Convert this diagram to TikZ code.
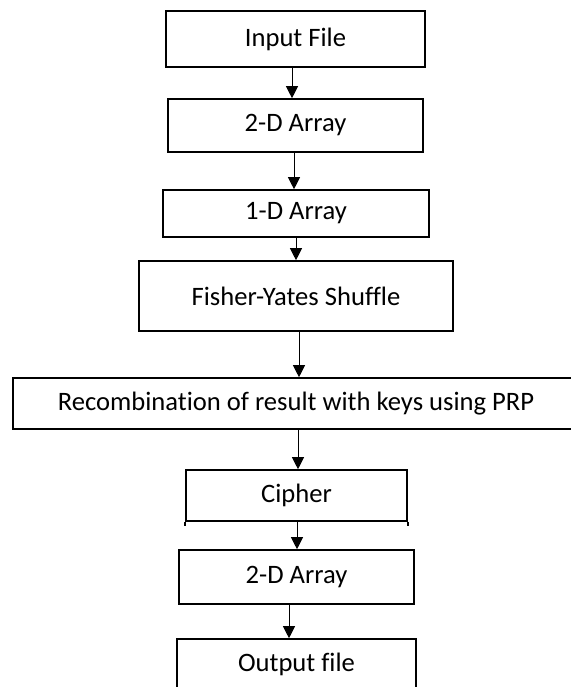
\documentclass[tikz,border=0pt]{standalone}
\usepackage{fontspec}
\setmainfont[Ligatures=NoCommon]{Carlito}
\usetikzlibrary{arrows.meta}
\begin{document}
\begin{tikzpicture}[x=1pt,y=1pt,
  box/.style={draw=black,line width=1.6pt,inner sep=0pt,anchor=center,
    font=\fontsize{26.6}{31}\selectfont},
  arr/.style={draw=black,line width=1pt,-{Triangle[length=12pt,width=12pt]}}]
\useasboundingbox (0,0) rectangle (570,-687);
\node[box,minimum width=259pt,minimum height=56pt] (n1) at (295.5,-39) {Input File};
\node[box,minimum width=255pt,minimum height=53pt] (n2) at (295.5,-125.5) {2-D Array};
\node[box,minimum width=266pt,minimum height=47pt] (n3) at (296,-213.5) {1-D Array};
\node[box,minimum width=314pt,minimum height=70pt] (n4) at (296,-296) {Fisher-Yates Shuffle};
\node[box,minimum width=566pt,minimum height=51pt] (n5) at (296,-403.5) {Recombination of result with keys using PRP};
\node[box,minimum width=221pt,minimum height=51pt] (n6) at (296.5,-495.5) {Cipher};
\node[box,minimum width=235pt,minimum height=54pt] (n7) at (296.5,-577) {2-D Array};
\node[box,minimum width=239pt,minimum height=50pt] (n8) at (296.5,-664) {Output file};
\draw[line width=1.6pt] (n6.south west) -- ++(0,-4);
\draw[line width=1.6pt] (n6.south east) -- ++(0,-4);
\draw[arr] ([xshift=-3.5pt]n1.south) -- ([xshift=-3.5pt]n2.north);
\draw[arr] ([xshift=-1.5pt]n2.south) -- ([xshift=-2pt]n3.north);
\draw[arr] ([xshift=0pt]n3.south) -- ([xshift=0pt]n4.north);
\draw[arr] ([xshift=3pt]n4.south) -- ([xshift=3pt]n5.north);
\draw[arr] ([xshift=2pt]n5.south) -- ([xshift=1.5pt]n6.north);
\draw[arr] ([xshift=0.5pt]n6.south) -- ([xshift=0.5pt]n7.north);
\draw[arr] ([xshift=-7.5pt]n7.south) -- ([xshift=-7.5pt]n8.north);
\end{tikzpicture}
\end{document}
